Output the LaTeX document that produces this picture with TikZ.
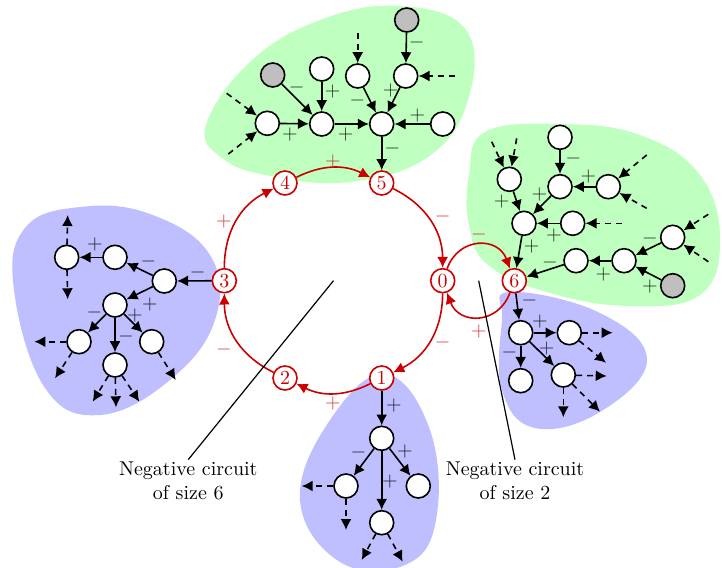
\documentclass[tikz,border=0pt]{standalone}
\usetikzlibrary{arrows.meta}
\definecolor{rc}{RGB}{204,0,0}
\definecolor{gblob}{RGB}{191,255,191}
\definecolor{bblob}{RGB}{191,191,255}
\begin{document}
\begin{tikzpicture}[x=0.5pt,y=0.5pt,
  wn/.style={circle,draw,thick,fill=white,minimum size=12pt,inner sep=0pt},
  gn/.style={wn,fill=gray!50},
  rn/.style={circle,draw=rc,thick,fill=white,minimum size=12pt,inner sep=0pt,text=rc},
  ed/.style={thick,-{Latex[length=5.5pt,width=5.5pt]}},
  de/.style={ed,dash pattern=on 3pt off 2.5pt},
  re/.style={thick,draw=rc,-{Latex[length=5.5pt,width=5.5pt]}},
  lab/.style={inner sep=0pt,text opacity=0.8},
  rlab/.style={inner sep=0pt,text=rc,text opacity=0.75},
  pt/.style={semithick}]
\useasboundingbox (0,0) rectangle (722,-567);
% blobs
\fill[gblob] plot[smooth cycle,tension=0.7] coordinates {(206,-125) (250,-62) (320,-20) (400,-6) (466,-30) (468,-100) (428,-157) (350,-182) (270,-176) (222,-158)};
\fill[gblob] plot[smooth cycle,tension=0.7] coordinates {(469,-175) (485,-132) (560,-124) (640,-135) (700,-175) (720,-240) (700,-295) (630,-306) (550,-293) (488,-265) (469,-225)};
\fill[bblob] plot[smooth cycle,tension=0.7] coordinates {(14,-290) (25,-228) (80,-207) (150,-214) (210,-255) (215,-320) (170,-380) (100,-415) (45,-388)};
\fill[bblob] plot[smooth cycle,tension=0.7] coordinates {(385,-374) (430,-430) (436,-520) (405,-565) (340,-562) (300,-500) (330,-420)};
\fill[bblob] plot[smooth cycle,tension=0.7] coordinates {(510,-292) (600,-313) (647,-360) (600,-412) (535,-428) (502,-390) (502,-320)};
% red circuit nodes
\node[rn] (n0) at (442.7,-280.7) {0};
\node[rn] (n1) at (381.7,-378) {1};
\node[rn] (n2) at (285,-378) {2};
\node[rn] (n3) at (224.3,-280.7) {3};
\node[rn] (n4) at (285,-183) {4};
\node[rn] (n5) at (381.7,-183) {5};
\node[rn] (n6) at (514.3,-280.7) {6};
\draw[re] (n0) to[bend left=31.8] (n1);
\draw[re] (n1) to[bend left=26.5] (n2);
\draw[re] (n2) to[bend left=31.8] (n3);
\draw[re] (n3) to[bend left=31.8] (n4);
\draw[re] (n4) to[bend left=26.5] (n5);
\draw[re] (n5) to[bend left=31.8] (n0);
\draw[re] (n0) to[out=70,in=110,looseness=1.4] (n6);
\draw[re] (n6) to[out=-110,in=-70,looseness=1.4] (n0);
\node[rlab] (q1) at (442.7,-216) {$-$};
\node[rlab] (q2) at (442.7,-342.7) {$-$};
\node[rlab] (q3) at (333,-403) {$+$};
\node[rlab] (q4) at (224,-349) {$-$};
\node[rlab] (q5) at (224,-221.7) {$+$};
\node[rlab] (q6) at (333,-161.7) {$+$};
\node[rlab] (q7) at (479,-234) {$-$};
\node[rlab] (q8) at (479,-331.7) {$+$};
% top green
\node[gn] (tg) at (406.7,-20) {};
\node[wn] (ta) at (405.7,-76) {};
\node[wn] (tb) at (357.7,-76) {};
\node[wn] (tc) at (321.7,-69) {};
\node[gn] (td) at (272.7,-75) {};
\node[wn] (te) at (267.3,-123.3) {};
\node[wn] (tf) at (321.7,-124) {};
\node[wn] (tG) at (381.7,-124) {};
\node[wn] (th) at (442.7,-124) {};
\coordinate (ta1) at (455,-76);
\coordinate (tb1) at (357.7,-33);
\coordinate (te1) at (226.7,-93.3);
\coordinate (te2) at (228.3,-154);
\draw[ed] (tg) -- (ta);
\draw[de] (ta1) -- (ta);
\draw[de] (tb1) -- (tb);
\draw[ed] (ta) -- (tG);
\draw[ed] (tb) -- (tG);
\draw[ed] (tc) -- (tf);
\draw[ed] (td) -- (tf);
\draw[ed] (te) -- (tf);
\draw[ed] (tf) -- (tG);
\draw[ed] (th) -- (tG);
\draw[ed] (tG) -- (n5);
\draw[de] (te1) -- (te);
\draw[de] (te2) -- (te);
\node[lab] at (416.7,-43) {$-$};
\node[lab] at (390.7,-90.7) {$+$};
\node[lab] at (357.3,-100) {$-$};
\node[lab] at (332.7,-91.7) {$+$};
\node[lab] at (296.7,-87.3) {$-$};
\node[lab] at (290,-135) {$+$};
\node[lab] at (345.7,-135) {$+$};
\node[lab] at (417.3,-115.7) {$+$};
\node[lab] at (392.3,-149) {$-$};
% right green
\node[wn] (rt) at (560,-137.3) {};
\node[wn] (r1) at (509.3,-179.3) {};
\node[wn] (r2) at (560,-186.7) {};
\node[wn] (r3) at (608.3,-186.7) {};
\node[wn] (r4) at (524,-223.3) {};
\node[wn] (r5) at (572.7,-223.3) {};
\node[wn] (r6) at (672.7,-237.3) {};
\node[wn] (r7) at (624,-260.7) {};
\node[wn] (r8) at (576,-260.7) {};
\node[gn] (rg) at (672.7,-285.7) {};
\coordinate (r3a) at (646.7,-155);
\coordinate (r3b) at (646.7,-208.3);
\coordinate (r1a) at (491.7,-141.7);
\coordinate (r1b) at (516.7,-138.3);
\coordinate (r5a) at (621.7,-223.3);
\coordinate (r6a) at (708.3,-214.3);
\coordinate (r6b) at (708.3,-261.7);
\draw[ed] (rt) -- (r2);
\draw[ed] (r3) -- (r2);
\draw[de] (r3a) -- (r3);
\draw[de] (r3b) -- (r3);
\draw[de] (r1a) -- (r1);
\draw[de] (r1b) -- (r1);
\draw[ed] (r1) -- (r4);
\draw[ed] (r2) -- (r4);
\draw[ed] (r5) -- (r4);
\draw[de] (r5a) -- (r5);
\draw[ed] (r4) -- (n6);
\draw[ed] (r8) -- (n6);
\draw[ed] (r7) -- (r8);
\draw[ed] (r6) -- (r7);
\draw[ed] (rg) -- (r7);
\draw[de] (r6a) -- (r6);
\draw[de] (r6b) -- (r6);
\node[lab] at (573.3,-158.3) {$-$};
\node[lab] at (588.3,-176.7) {$+$};
\node[lab] at (501.7,-201.7) {$+$};
\node[lab] at (539.3,-194) {$+$};
\node[lab] at (554,-235) {$+$};
\node[lab] at (531.7,-246.7) {$+$};
\node[lab] at (550,-262.7) {$-$};
\node[lab] at (603.3,-274) {$+$};
\node[lab] at (650,-238.3) {$-$};
\node[lab] at (650,-286.7) {$+$};
% left blue
\node[wn] (l1) at (66.7,-257.3) {};
\node[wn] (l2) at (115,-257.3) {};
\node[wn] (l3) at (164.3,-281) {};
\node[wn] (l4) at (115,-305) {};
\node[wn] (l5) at (79,-341.7) {};
\node[wn] (l6) at (115,-365) {};
\node[wn] (l7) at (151.7,-341.7) {};
\coordinate (l1a) at (67.7,-215);
\coordinate (l1b) at (67.7,-299.3);
\coordinate (l5a) at (34.3,-341.7);
\coordinate (l5b) at (55,-378.3);
\coordinate (l6a) at (92.7,-401.7);
\coordinate (l6b) at (116,-407.3);
\coordinate (l6c) at (139.3,-401.7);
\coordinate (l7a) at (175.7,-380);
\draw[ed] (n3) -- (l3);
\draw[ed] (l3) -- (l2);
\draw[ed] (l2) -- (l1);
\draw[de] (l1) -- (l1a);
\draw[de] (l1) -- (l1b);
\draw[ed] (l3) -- (l4);
\draw[ed] (l4) -- (l5);
\draw[ed] (l4) -- (l6);
\draw[ed] (l4) -- (l7);
\draw[de] (l5) -- (l5a);
\draw[de] (l5) -- (l5b);
\draw[de] (l6) -- (l6a);
\draw[de] (l6) -- (l6b);
\draw[de] (l6) -- (l6c);
\draw[de] (l7) -- (l7a);
\node[lab] at (197.7,-272.3) {$-$};
\node[lab] at (148.3,-261.7) {$-$};
\node[lab] at (95,-244.3) {$+$};
\node[lab] at (150,-304) {$+$};
\node[lab] at (94.3,-312.7) {$-$};
\node[lab] at (126,-336) {$-$};
\node[lab] at (135,-315) {$+$};
% bottom blue
\node[wn] (b1) at (381.7,-438.3) {};
\node[wn] (b2) at (346,-486) {};
\node[wn] (b3) at (418.3,-486) {};
\node[wn] (b4) at (381.7,-522.7) {};
\coordinate (b2a) at (301.7,-486);
\coordinate (b2b) at (346,-530);
\coordinate (b4a) at (361.7,-560);
\coordinate (b4b) at (402.7,-561.7);
\draw[ed] (n1) -- (b1);
\draw[ed] (b1) -- (b2);
\draw[ed] (b1) -- (b3);
\draw[ed] (b1) -- (b4);
\draw[de] (b2) -- (b2a);
\draw[de] (b2) -- (b2b);
\draw[de] (b4) -- (b4a);
\draw[de] (b4) -- (b4b);
\node[lab] at (394,-405) {$+$};
\node[lab] at (358.3,-452.7) {$-$};
\node[lab] at (405,-451) {$+$};
\node[lab] at (390,-481.7) {$+$};
% bottom-right blue
\node[wn] (s1) at (520.7,-332.7) {};
\node[wn] (s2) at (569.3,-332.7) {};
\node[wn] (s3) at (520.7,-380.7) {};
\node[wn] (s4) at (563.3,-375) {};
\coordinate (s2a) at (612.7,-332.7);
\coordinate (s2b) at (606,-362.7);
\coordinate (s4a) at (606.7,-376);
\coordinate (s4b) at (563.3,-417.3);
\coordinate (s4c) at (600,-411.7);
\draw[ed] (n6) -- (s1);
\draw[ed] (s1) -- (s2);
\draw[ed] (s1) -- (s3);
\draw[ed] (s1) -- (s4);
\draw[de] (s2) -- (s2a);
\draw[de] (s2) -- (s2b);
\draw[de] (s4) -- (s4a);
\draw[de] (s4) -- (s4b);
\draw[de] (s4) -- (s4c);
\node[lab] at (529.3,-300) {$-$};
\node[lab] at (540,-321.7) {$+$};
\node[lab] at (509.3,-352.7) {$-$};
\node[lab] at (546.7,-348.3) {$+$};
% annotations
\coordinate (c6) at (333.5,-280.7);
\coordinate (c2) at (478.7,-280.7);
\node[align=center,inner sep=1pt] (t6) at (188.3,-481) {Negative circuit\\of size 6};
\node[align=center,inner sep=1pt] (t2) at (515,-481) {Negative circuit\\of size 2};
\draw[pt] (c6) -- (t6.north);
\draw[pt] (c2) -- (t2.north);
\end{tikzpicture}
\end{document}
